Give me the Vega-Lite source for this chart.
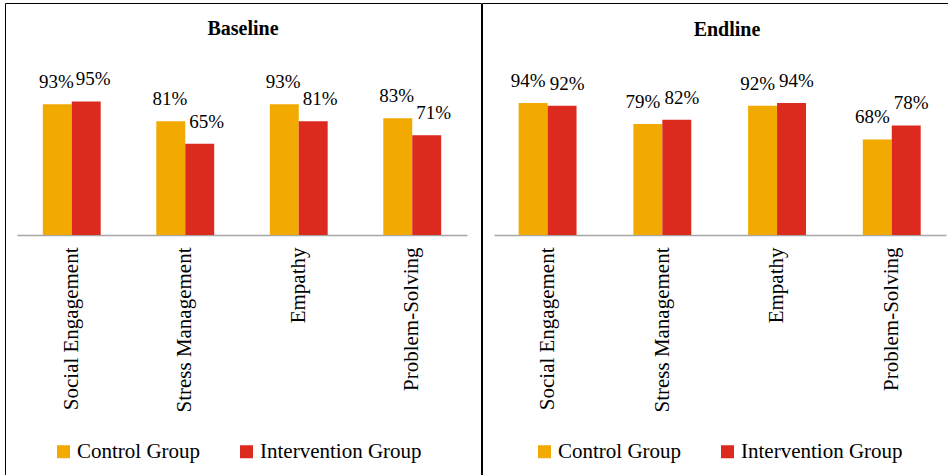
{
  "$schema": "https://vega.github.io/schema/vega-lite/v6.json",
  "background": "white",
  "padding": {"left": 4, "top": 2, "right": -22, "bottom": -2},
  "spacing": -3,
  "config": {
    "font": "Liberation Serif",
    "view": {"stroke": "black", "strokeWidth": 1}
  },
  "datasets": {
    "base": [
      {"skill": "Social Engagement", "group": "Control Group", "value": 0.93},
      {"skill": "Social Engagement", "group": "Intervention Group", "value": 0.95},
      {"skill": "Stress Management", "group": "Control Group", "value": 0.81},
      {"skill": "Stress Management", "group": "Intervention Group", "value": 0.65},
      {"skill": "Empathy", "group": "Control Group", "value": 0.93},
      {"skill": "Empathy", "group": "Intervention Group", "value": 0.81},
      {"skill": "Problem-Solving", "group": "Control Group", "value": 0.83},
      {"skill": "Problem-Solving", "group": "Intervention Group", "value": 0.71}
    ],
    "end": [
      {"skill": "Social Engagement", "group": "Control Group", "value": 0.94},
      {"skill": "Social Engagement", "group": "Intervention Group", "value": 0.92},
      {"skill": "Stress Management", "group": "Control Group", "value": 0.79},
      {"skill": "Stress Management", "group": "Intervention Group", "value": 0.82},
      {"skill": "Empathy", "group": "Control Group", "value": 0.92},
      {"skill": "Empathy", "group": "Intervention Group", "value": 0.94},
      {"skill": "Problem-Solving", "group": "Control Group", "value": 0.68},
      {"skill": "Problem-Solving", "group": "Intervention Group", "value": 0.78}
    ]
  },
  "resolve": {"legend": {"color": "independent"}, "scale": {"x": "independent", "y": "independent", "color": "independent"}},
  "hconcat": [
    {
      "width": 476,
      "height": 475,
      "data": {"name": "base"},
      "title": {"text": "Baseline", "font": "Liberation Serif", "fontSize": 20, "fontWeight": "bold", "color": "black", "anchor": "middle", "offset": -52, "baseline": "alphabetic"},
      "encoding": {
        "x": {
          "field": "skill", "type": "nominal",
          "sort": ["Social Engagement", "Stress Management", "Empathy", "Problem-Solving"],
          "scale": {"range": [12, 462], "paddingInner": 0.49, "paddingOuter": 0.2275},
          "axis": {"orient": "bottom", "offset": -243, "title": null, "ticks": false, "grid": false, "labelAngle": -90, "labelAlign": "right", "labelBaseline": "middle", "labelPadding": 12, "labelFont": "Liberation Serif", "labelFontSize": 21, "labelColor": "black", "labelLimit": 0, "domainColor": "#a6a6a6", "domainWidth": 1.5}
        },
        "xOffset": {"field": "group", "type": "nominal", "sort": ["Control Group", "Intervention Group"], "scale": {"paddingInner": 0, "paddingOuter": 0}},
        "y": {"field": "value", "type": "quantitative", "stack": null, "scale": {"domain": [-1.7295, 1.651], "nice": false}, "axis": null}
      },
      "layer": [
        {
          "mark": {"type": "bar"},
          "encoding": {
            "color": {
              "field": "group", "type": "nominal",
              "scale": {"domain": ["Control Group", "Intervention Group"], "range": ["#F2A900", "#DC2A1F"]},
              "legend": {"orient": "none", "legendX": 48, "legendY": 438, "direction": "horizontal", "title": null, "symbolType": "square", "symbolSize": 169, "symbolStrokeWidth": 0, "labelFont": "Liberation Serif", "labelFontSize": 21, "labelColor": "black", "labelOffset": 3, "columnPadding": 35, "padding": 0, "labelLimit": 0}
            }
          }
        },
        {
          "transform": [{"filter": "datum.group == 'Control Group'"}],
          "mark": {"type": "text", "dy": -22, "dx": -1, "baseline": "middle", "fontSize": 19, "color": "black"},
          "encoding": {"text": {"field": "value", "type": "quantitative", "format": ".0%"}}
        },
        {
          "transform": [{"filter": "datum.group == 'Intervention Group'"}],
          "mark": {"type": "text", "dy": -22, "dx": 7, "baseline": "middle", "fontSize": 19, "color": "black"},
          "encoding": {"text": {"field": "value", "type": "quantitative", "format": ".0%"}}
        }
      ]
    },
    {
      "width": 490,
      "height": 475,
      "data": {"name": "end"},
      "title": {"text": "Endline", "font": "Liberation Serif", "fontSize": 20, "fontWeight": "bold", "color": "black", "anchor": "middle", "offset": -53, "baseline": "alphabetic"},
      "encoding": {
        "x": {
          "field": "skill", "type": "nominal",
          "sort": ["Social Engagement", "Stress Management", "Empathy", "Problem-Solving"],
          "scale": {"range": [12, 464], "paddingInner": 0.49, "paddingOuter": 0.215},
          "axis": {"orient": "bottom", "offset": -243, "title": null, "ticks": false, "grid": false, "labelAngle": -90, "labelAlign": "right", "labelBaseline": "middle", "labelPadding": 12, "labelFont": "Liberation Serif", "labelFontSize": 21, "labelColor": "black", "labelLimit": 0, "domainColor": "#a6a6a6", "domainWidth": 1.5}
        },
        "xOffset": {"field": "group", "type": "nominal", "sort": ["Control Group", "Intervention Group"], "scale": {"paddingInner": 0, "paddingOuter": 0}},
        "y": {"field": "value", "type": "quantitative", "stack": null, "scale": {"domain": [-1.7295, 1.651], "nice": false}, "axis": null}
      },
      "layer": [
        {
          "mark": {"type": "bar"},
          "encoding": {
            "color": {
              "field": "group", "type": "nominal",
              "scale": {"domain": ["Control Group", "Intervention Group"], "range": ["#F2A900", "#DC2A1F"]},
              "legend": {"orient": "none", "legendX": 52, "legendY": 438, "direction": "horizontal", "title": null, "symbolType": "square", "symbolSize": 169, "symbolStrokeWidth": 0, "labelFont": "Liberation Serif", "labelFontSize": 21, "labelColor": "black", "labelOffset": 3, "columnPadding": 35, "padding": 0, "labelLimit": 0}
            }
          }
        },
        {
          "transform": [{"filter": "datum.group == 'Control Group'"}],
          "mark": {"type": "text", "dy": -22, "dx": -5, "baseline": "middle", "fontSize": 19, "color": "black"},
          "encoding": {"text": {"field": "value", "type": "quantitative", "format": ".0%"}}
        },
        {
          "transform": [{"filter": "datum.group == 'Intervention Group'"}],
          "mark": {"type": "text", "dy": -22, "dx": 5, "baseline": "middle", "fontSize": 19, "color": "black"},
          "encoding": {"text": {"field": "value", "type": "quantitative", "format": ".0%"}}
        }
      ]
    }
  ]
}
